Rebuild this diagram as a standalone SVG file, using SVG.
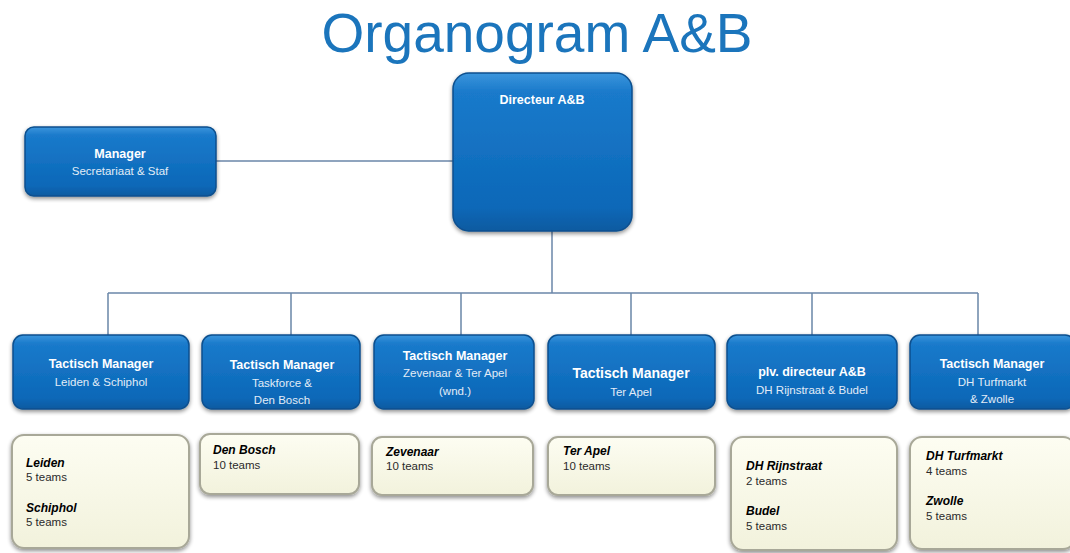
<svg xmlns="http://www.w3.org/2000/svg" width="1070" height="553" viewBox="0 0 1070 553">
<defs>
<linearGradient id="gb" x1="0" y1="0" x2="0" y2="1">
<stop offset="0" stop-color="#3b95dc"/>
<stop offset="0.12" stop-color="#1a7acb"/>
<stop offset="0.85" stop-color="#0b68b8"/>
<stop offset="1" stop-color="#0a5aa0"/>
</linearGradient>
<linearGradient id="gc" x1="0" y1="0" x2="0" y2="1">
<stop offset="0" stop-color="#fdfdf2"/>
<stop offset="1" stop-color="#f2f2dc"/>
</linearGradient>
<filter id="sh" x="-10%" y="-10%" width="120%" height="130%">
<feGaussianBlur in="SourceAlpha" stdDeviation="2"/>
<feOffset dx="0" dy="2" result="b"/>
<feComponentTransfer><feFuncA type="linear" slope="0.45"/></feComponentTransfer>
<feMerge><feMergeNode/><feMergeNode in="SourceGraphic"/></feMerge>
</filter>
</defs>
<style>
.b{fill:url(#gb);stroke:#0a4f8e;stroke-width:1.5;filter:url(#sh)}
.c{fill:url(#gc);stroke:#a8a898;stroke-width:2;filter:url(#sh)}
.t{font-family:"Liberation Sans",Arial,sans-serif;fill:#fff;text-anchor:middle}
.h{font-weight:bold;font-size:12.5px}
.s{font-size:11.5px;fill:#e2ecf7}
.k{font-family:"Liberation Sans",Arial,sans-serif;fill:#1a1a1a}
.kh{font-weight:bold;font-style:italic;font-size:12px;fill:#000}
.ks{font-size:11.5px;fill:#2a2a2a}
.ln{stroke:#6a86a8;stroke-width:1.5;fill:none}
</style>
<rect width="1070" height="553" fill="#fff"/>
<text x="537" y="52" font-family="'Liberation Sans',Arial,sans-serif" font-size="55" fill="#1b75bc" text-anchor="middle">Organogram A&amp;B</text>
<g id="connectors">
<path class="ln" d="M216 161H453"/>
<path class="ln" d="M552 231V293"/>
<path class="ln" d="M108 293H978"/>
<path class="ln" d="M108 293V335M291 293V335M461 293V335M631 293V335M812 293V335M978 293V335"/>
</g>
<g id="directeur"><rect class="b" x="453" y="73" width="179" height="158" rx="16"/><text class="t h" x="542" y="104">Directeur A&amp;B</text></g>
<g id="manager"><rect class="b" x="25" y="127" width="191" height="69" rx="9"/><text class="t h" x="120" y="158">Manager</text><text class="t s" x="120" y="175">Secretariaat &amp; Staf</text></g>
<g id="tm1"><rect class="b" x="13" y="335" width="176" height="74" rx="10"/><text class="t h" x="101" y="368">Tactisch Manager</text><text class="t s" x="101" y="386">Leiden &amp; Schiphol</text></g>
<g id="tm2"><rect class="b" x="202" y="335" width="158" height="74" rx="10"/><text class="t h" x="282" y="369">Tactisch Manager</text><text class="t s" x="282" y="387">Taskforce &amp;</text><text class="t s" x="282" y="404">Den Bosch</text></g>
<g id="tm3"><rect class="b" x="374" y="335" width="160" height="74" rx="10"/><text class="t h" x="455" y="360">Tactisch Manager</text><text class="t s" x="455" y="377">Zevenaar &amp; Ter Apel</text><text class="t s" x="455" y="395">(wnd.)</text></g>
<g id="tm4"><rect class="b" x="548" y="335" width="167" height="74" rx="10"/><text class="t h" x="631" y="378" style="font-size:14px">Tactisch Manager</text><text class="t s" x="631" y="396">Ter Apel</text></g>
<g id="plv"><rect class="b" x="727" y="335" width="170" height="74" rx="10"/><text class="t h" x="812" y="376">plv. directeur A&amp;B</text><text class="t s" x="812" y="394">DH Rijnstraat &amp; Budel</text></g>
<g id="tm6"><rect class="b" x="910" y="335" width="165" height="74" rx="10"/><text class="t h" x="992" y="368">Tactisch Manager</text><text class="t s" x="992" y="386">DH Turfmarkt</text><text class="t s" x="992" y="403">&amp; Zwolle</text></g>
<g id="u1"><rect class="c" x="12" y="435" width="177" height="113" rx="12"/><text class="k kh" x="26" y="467">Leiden</text><text class="k ks" x="26" y="481">5 teams</text><text class="k kh" x="26" y="512">Schiphol</text><text class="k ks" x="26" y="526">5 teams</text></g>
<g id="u2"><rect class="c" x="200" y="434" width="159" height="60" rx="10"/><text class="k kh" x="213" y="454">Den Bosch</text><text class="k ks" x="213" y="469">10 teams</text></g>
<g id="u3"><rect class="c" x="372" y="437" width="161" height="58" rx="10"/><text class="k kh" x="386" y="456">Zevenaar</text><text class="k ks" x="386" y="470">10 teams</text></g>
<g id="u4"><rect class="c" x="548" y="437" width="167" height="58" rx="10"/><text class="k kh" x="563" y="455">Ter Apel</text><text class="k ks" x="563" y="470">10 teams</text></g>
<g id="u5"><rect class="c" x="731" y="437" width="166" height="113" rx="12"/><text class="k kh" x="746" y="470">DH Rijnstraat</text><text class="k ks" x="746" y="485">2 teams</text><text class="k kh" x="746" y="515">Budel</text><text class="k ks" x="746" y="530">5 teams</text></g>
<g id="u6"><rect class="c" x="910" y="437" width="165" height="112" rx="12"/><text class="k kh" x="926" y="460">DH Turfmarkt</text><text class="k ks" x="926" y="475">4 teams</text><text class="k kh" x="926" y="505">Zwolle</text><text class="k ks" x="926" y="520">5 teams</text></g>
</svg>
